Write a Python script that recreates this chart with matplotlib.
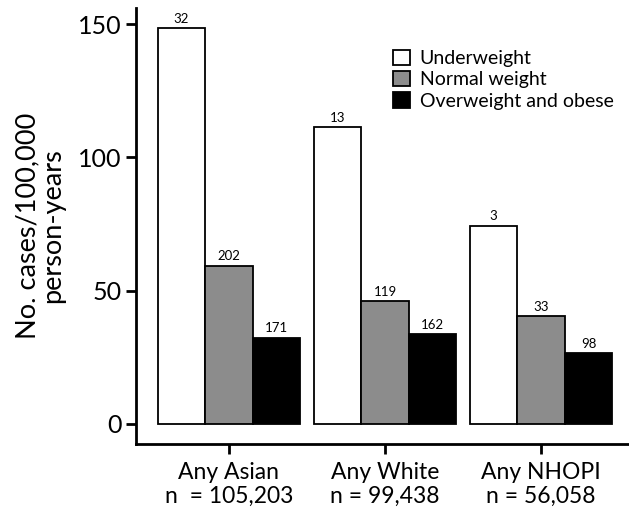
import numpy as np
import matplotlib
matplotlib.use('Agg')
import matplotlib.pyplot as plt

plt.rcParams['font.family'] = ['Lato', 'DejaVu Sans']

# data
groups = ['Any Asian\nn  = 105,203', 'Any White\nn = 99,438', 'Any NHOPI\nn = 56,058']
categories = ['Underweight', 'Normal weight', 'Overweight and obese']
rates = [
    [148.4, 111.5, 74.4],   # underweight
    [59.4, 46.2, 40.4],     # normal weight
    [32.4, 33.6, 26.5],     # overweight and obese
]
case_counts = [
    [32, 13, 3],
    [202, 119, 33],
    [171, 162, 98],
]
colors = ['white', '#8c8c8c', 'black']

fig = plt.figure(figsize=(6.29, 5.08), dpi=100)
ax = fig.add_axes([0.2162, 0.126, 0.7838, 0.858])

x = np.arange(len(groups))
w = 0.305
for i, cat in enumerate(categories):
    pos = x + (i - 1) * w
    bars = ax.bar(pos, rates[i], w, color=colors[i], edgecolor='black',
                  linewidth=1.3, label=cat)
    for b, n in zip(bars, case_counts[i]):
        ax.text(b.get_x() + b.get_width() / 2, b.get_height() + 1.2, str(n),
                ha='center', va='bottom', fontsize=9.5)

ax.set_xlim(-0.596, 2.564)
ax.set_ylim(-7.5, 156)
ax.set_yticks([0, 50, 100, 150])
ax.set_xticks(x)
ax.set_xticklabels(groups, fontsize=16.5, linespacing=1.15)
ax.tick_params(axis='y', labelsize=18, width=2, length=7)
ax.tick_params(axis='x', width=2, length=7, pad=6)
for s in ['top', 'right']:
    ax.spines[s].set_visible(False)
for s in ['left', 'bottom']:
    ax.spines[s].set_linewidth(2)
ax.set_ylabel('No. cases/100,000\nperson-years', fontsize=19.5, labelpad=9, linespacing=1.0)

ax.legend(loc='upper left', bbox_to_anchor=(0.522, 0.905), frameon=False,
          fontsize=14, handlelength=0.85, handleheight=0.85, handletextpad=0.5,
          labelspacing=0.2, borderpad=0, borderaxespad=0)

plt.savefig('out.png', dpi=100)
